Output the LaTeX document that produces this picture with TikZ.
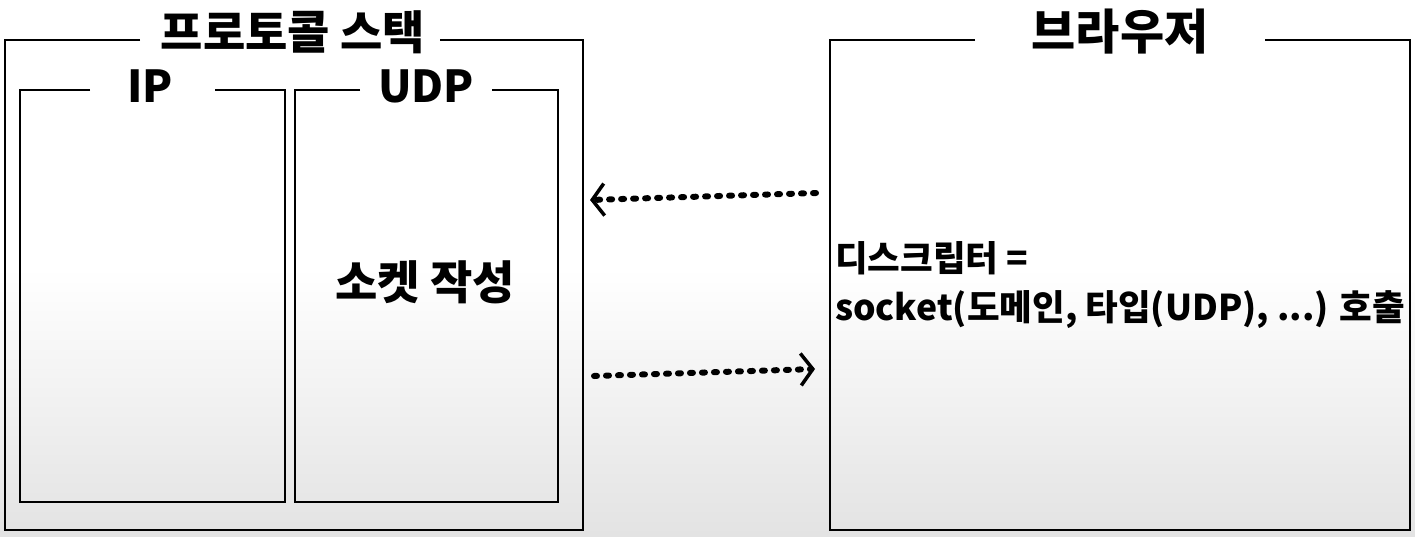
\documentclass[tikz,border=0pt]{standalone}
\usepackage{fontspec}
\newfontfamily\kr{Noto Sans CJK KR Black}
\usetikzlibrary{arrows.meta}
\begin{document}
\begin{tikzpicture}[x=1pt,y=-1pt,
  boxline/.style={line width=2.2pt,black},
  lbl/.style={font=\kr\fontsize{46}{48}\selectfont,inner sep=0pt},
  txt/.style={font=\kr\fontsize{35.5}{38}\selectfont,inner sep=0pt,anchor=west},
  dotarrow/.style={line width=6pt,dash pattern=on 3pt off 9pt,line cap=round,-{Straight Barb[length=12pt,width=32pt,line width=3.5pt]}}]
\useasboundingbox (0,0) rectangle (1415,536);
\shade[top color=white,bottom color=black!11,middle color=white] (0,0) rectangle (1415,536);
% left outer
\draw[boxline] (140,40) -- (5,40) -- (5,530) -- (583,530) -- (583,40) -- (440,40);
\node[lbl] (ps) at (293,32) {프로토콜 스택};
\draw[boxline,line width=1.5pt] (90,90) -- (20,90) -- (20,502) -- (285,502) -- (285,90) -- (215,90);
\node[lbl,font=\kr\fontsize{44}{46}\selectfont] (ip) at (150,86) {IP};
\draw[boxline,line width=1.5pt] (360,90) -- (295,90) -- (295,502) -- (558,502) -- (558,90) -- (492,90);
\node[lbl,font=\kr\fontsize{44}{46}\selectfont] (udp) at (426,86) {UDP};
\node[lbl] (sock) at (425,282) {소켓 작성};
% right
\draw[boxline] (975,40) -- (830,40) -- (830,530) -- (1410,530) -- (1410,40) -- (1265,40);
\node[lbl,font=\kr\fontsize{48}{50}\selectfont] (br) at (1120,32) {브라우저};
\node[txt] (d1) at (835,258) {디스크립터 =};
\node[txt] (d2) at (835,310) {socket(도메인, 타입(UDP), ...) 호출};
\coordinate (a1s) at (816,193);
\coordinate (a1e) at (590,200);
\coordinate (a2s) at (594,376);
\coordinate (a2e) at (815,369);
\draw[dotarrow] (a1s) -- (a1e);
\draw[dotarrow] (a2s) -- (a2e);
\end{tikzpicture}
\end{document}
